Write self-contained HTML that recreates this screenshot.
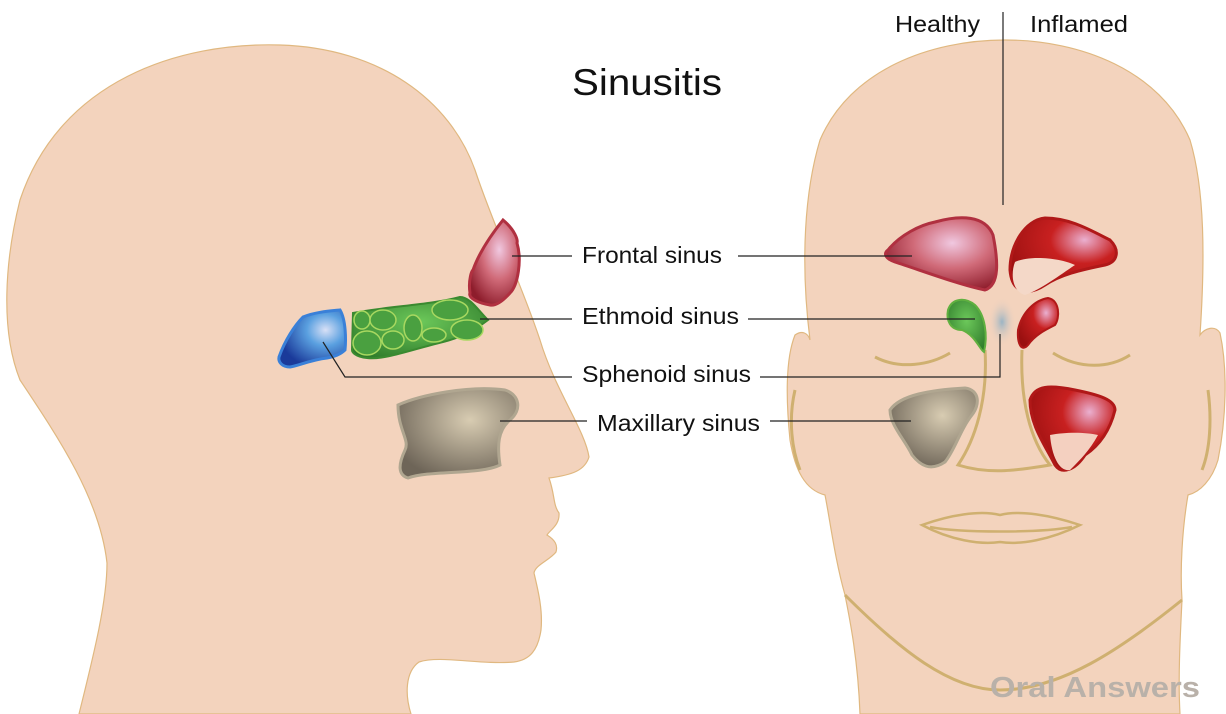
<!DOCTYPE html>
<html><head><meta charset="utf-8"><style>
html,body{margin:0;padding:0;background:#fff;}
svg{display:block;}
text{font-family:"Liberation Sans",sans-serif;}
</style></head><body>
<svg width="1226" height="714" viewBox="0 0 1226 714" xmlns="http://www.w3.org/2000/svg">
<defs>
<radialGradient id="gr" cx="0.6" cy="0.35" r="0.7"><stop offset="0" stop-color="#f0c8e0"/><stop offset="0.5" stop-color="#d06a78"/><stop offset="1" stop-color="#8e1d2c"/></radialGradient>
<radialGradient id="gi" cx="0.7" cy="0.3" r="0.8"><stop offset="0" stop-color="#eab0d0"/><stop offset="0.4" stop-color="#c82020"/><stop offset="1" stop-color="#9a1010"/></radialGradient>
<radialGradient id="gg" cx="0.5" cy="0.4" r="0.7"><stop offset="0" stop-color="#6cc85a"/><stop offset="1" stop-color="#2e7a2a"/></radialGradient>
<radialGradient id="gb" cx="0.7" cy="0.35" r="0.7"><stop offset="0" stop-color="#d8e0f6"/><stop offset="0.4" stop-color="#5aa0e0"/><stop offset="1" stop-color="#1a3a9a"/></radialGradient>
<radialGradient id="gm" cx="0.6" cy="0.35" r="0.7"><stop offset="0" stop-color="#d8ccb2"/><stop offset="1" stop-color="#6e6558"/></radialGradient>
<radialGradient id="gs" cx="0.5" cy="0.5" r="0.5"><stop offset="0" stop-color="#9ab4c4"/><stop offset="1" stop-color="#f3d3bd" stop-opacity="0"/></radialGradient>
</defs>
<!-- left head -->
<path d="M79,714 C95,650 107,600 107,563 C100,500 60,440 20,380 C0,330 5,260 20,200 C60,80 180,42 280,45 C380,48 450,100 475,170 C495,230 520,280 540,340 C555,390 585,430 589,457 C585,470 573,475 549,478 C555,495 553,505 559,513 C560,525 550,530 547,535 C555,540 558,545 556,552 C550,560 535,565 534,573 C538,590 543,610 541,630 C538,650 530,660 514,662 C480,665 440,655 419,662 C405,672 405,695 411,714 Z" fill="#f3d3bd" stroke="#e0b880" stroke-width="1.2"/>
<!-- right face -->
<path d="M860,714 C858,660 850,620 845,595 C835,560 830,520 825,495 C805,490 795,470 790,440 C786,400 785,360 795,335 C802,330 808,333 810,340 C800,260 805,190 820,140 C850,70 930,40 1005,40 C1080,40 1160,70 1190,140 C1205,190 1205,260 1200,335 C1205,328 1215,325 1220,333 C1228,370 1226,420 1218,460 C1212,480 1200,492 1188,495 C1182,530 1180,570 1182,600 C1180,640 1178,680 1180,714 Z" fill="#f3d3bd" stroke="#e0b880" stroke-width="1.2"/>
<path d="M845,595 C900,650 950,690 1000,690 C1060,690 1120,650 1182,600" fill="none" stroke="#cfb070" stroke-width="3"/>
<path d="M922,525 C950,515 980,510 1000,515 C1020,510 1050,515 1080,525 C1050,540 1020,545 1000,542 C980,545 950,540 922,525 Z M930,527 C960,533 1040,533 1072,527" fill="none" stroke="#cfb070" stroke-width="2.5"/>
<path d="M875,357 C900,370 930,365 950,353 M1053,353 C1080,370 1110,368 1130,355" fill="none" stroke="#cfb070" stroke-width="3"/>
<path d="M985,350 C988,400 975,440 958,465 C990,475 1020,470 1050,465 C1030,440 1020,400 1022,350" fill="none" stroke="#cfb070" stroke-width="3"/>
<path d="M795,390 C788,420 792,450 800,470 M1208,390 C1212,420 1210,450 1202,470" fill="none" stroke="#cfb070" stroke-width="3"/>
<!-- left sinuses -->
<path d="M503,220 C515,230 518,240 517,243 C522,260 518,285 510,293 C502,302 495,306 490,305 C478,303 468,298 470,293 C468,280 472,270 473,270 C480,250 495,230 503,220 Z" fill="url(#gr)" stroke="#b03040" stroke-width="3"/>
<path d="M353,313 C390,306 430,305 460,297 C470,297 478,310 488,320 C475,330 460,338 443,342 C410,350 385,360 367,358 C355,357 352,352 352,350 Z" fill="url(#gg)" stroke="#3a8a30" stroke-width="2"/>
<g fill="#4aa040" stroke="#a8d860" stroke-width="1.5"><ellipse cx="362" cy="320" rx="8" ry="9"/><ellipse cx="383" cy="320" rx="13" ry="10"/><ellipse cx="413" cy="328" rx="9" ry="13"/><ellipse cx="450" cy="310" rx="18" ry="10"/><ellipse cx="467" cy="330" rx="16" ry="10"/><ellipse cx="367" cy="343" rx="14" ry="12"/><ellipse cx="393" cy="340" rx="11" ry="9"/><ellipse cx="434" cy="335" rx="12" ry="7"/></g>
<path d="M279,357 C285,340 295,325 303,317 C315,312 330,311 340,310 C346,320 346,340 345,350 C340,355 333,357 327,358 C310,360 298,366 290,367 C282,367 278,362 279,357 Z" fill="url(#gb)" stroke="#3a80d8" stroke-width="3"/>
<path d="M398,405 C420,395 470,385 505,390 C520,395 522,410 510,420 C498,430 497,445 500,465 C480,475 430,470 408,478 C398,475 398,465 405,450 C410,440 398,430 398,405 Z" fill="url(#gm)" stroke="#b0a690" stroke-width="3"/>
<!-- right sinuses -->
<path d="M888,250 C900,235 920,225 935,222 C960,215 985,215 993,235 C998,260 1000,285 985,290 C960,285 920,270 895,262 C884,258 884,253 888,250 Z" fill="url(#gr)" stroke="#b03040" stroke-width="3"/>
<path d="M1010,270 C1010,245 1025,220 1045,218 C1070,218 1090,230 1110,240 C1120,250 1118,262 1105,265 C1080,270 1060,275 1045,285 C1030,295 1012,295 1010,270 Z" fill="url(#gi)" stroke="#b01818" stroke-width="3"/>
<path d="M1015,262 C1030,255 1060,258 1075,265 C1060,275 1040,290 1025,295 C1013,292 1010,275 1015,262 Z" fill="#f4d8c8"/>
<path d="M948,310 C952,298 965,297 975,305 C985,315 988,335 984,352 C980,350 975,335 962,330 C950,330 946,320 948,310 Z" fill="url(#gg)" stroke="#60b040" stroke-width="2"/>
<ellipse cx="1002" cy="322" rx="14" ry="25" fill="url(#gs)"/>
<path d="M1018,330 C1022,312 1035,300 1048,298 C1060,300 1060,318 1055,325 C1045,330 1035,335 1028,345 C1022,352 1017,345 1018,330 Z" fill="url(#gi)" stroke="#b01818" stroke-width="2"/>
<path d="M890,410 C900,395 930,390 965,388 C980,390 980,405 972,415 C960,430 955,450 945,462 C930,472 920,465 912,455 C905,440 890,425 890,410 Z" fill="url(#gm)" stroke="#b0a690" stroke-width="3"/>
<path d="M1030,400 C1035,385 1050,385 1075,390 C1100,395 1115,400 1115,410 C1110,430 1100,445 1085,455 C1075,470 1062,475 1055,465 C1045,445 1030,425 1030,400 Z" fill="url(#gi)" stroke="#b01818" stroke-width="3"/>
<path d="M1050,435 C1065,432 1085,432 1098,435 C1090,450 1080,460 1070,470 C1060,472 1052,458 1050,435 Z" fill="#f4d0c0"/>
<!-- lines -->
<g stroke="#222" stroke-width="1.2" fill="none">
<line x1="1003" y1="12" x2="1003" y2="205"/>
<line x1="512" y1="256" x2="572" y2="256"/><line x1="738" y1="256" x2="912" y2="256"/>
<line x1="480" y1="319" x2="572" y2="319"/><line x1="748" y1="319" x2="975" y2="319"/>
<polyline points="323,342 345,377 572,377"/><polyline points="760,377 1000,377 1000,334"/>
<line x1="500" y1="421" x2="587" y2="421"/><line x1="770" y1="421" x2="911" y2="421"/>
</g>
<g fill="#111">
<text x="572" y="95" font-size="37" textLength="150" lengthAdjust="spacingAndGlyphs">Sinusitis</text>
<text x="582" y="263" font-size="23" textLength="140" lengthAdjust="spacingAndGlyphs">Frontal sinus</text>
<text x="582" y="324" font-size="23" textLength="157" lengthAdjust="spacingAndGlyphs">Ethmoid sinus</text>
<text x="582" y="382" font-size="23" textLength="169" lengthAdjust="spacingAndGlyphs">Sphenoid sinus</text>
<text x="597" y="431" font-size="23" textLength="163" lengthAdjust="spacingAndGlyphs">Maxillary sinus</text>
<text x="895" y="32" font-size="23" textLength="85" lengthAdjust="spacingAndGlyphs">Healthy</text>
<text x="1030" y="32" font-size="23" textLength="98" lengthAdjust="spacingAndGlyphs">Inflamed</text>
</g>
<text x="990" y="697" font-size="29" font-weight="bold" fill="#b9b1a9" textLength="210" lengthAdjust="spacingAndGlyphs">Oral Answers</text>
</svg>
</body></html>
